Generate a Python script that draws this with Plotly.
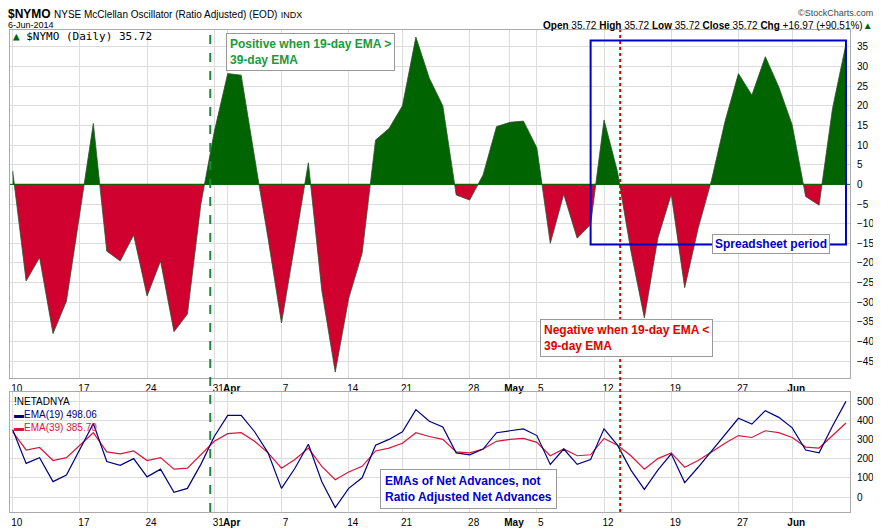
import plotly.graph_objects as go

dates = (["Mar %d" % d for d in [10,11,12,13,14,17,18,19,20,21,24,25,26,27,28,31]] +
         ["Apr %d" % d for d in [1,2,3,4,7,8,9,10,11,14,15,16,17,21,22,23,24,25,28,29,30]] +
         ["May %d" % d for d in [1,2,5,6,7,8,9,12,13,14,15,16,19,20,21,22,23,27,28,29,30]] +
         ["Jun %d" % d for d in [2,3,4,5,6]])

nymo = [3.4,-24.6,-18.6,-38,-29.7,-7.2,15.5,-17,-19.5,-12.9,-28.4,-19.5,-37.5,-33,-5,
        13.4,28.2,27.8,6.6,-13.7,-35.3,-15,5.5,-27,-47.8,-29,-17.5,11.3,14.2,20,37.5,27,
        20,-2.7,-4,2.4,14.7,15.8,16.1,9.3,-15,-2.5,-13.7,-10.2,16.4,3.2,-17,-34,-13.7,
        -2.5,-26.3,-11.2,1.1,16,28.2,22.7,32.5,24.8,15.1,-3.1,-5.3,19.3,35.72]

ema19 = [350,175,205,80,115,250,383,185,165,200,105,145,25,45,170,315,425,425,340,230,
         45,150,275,80,-55,45,100,270,300,340,455,395,365,230,220,250,335,345,355,320,
         170,250,170,195,355,270,140,40,140,225,75,155,240,330,410,380,450,415,360,245,
         230,370,498.06]
ema39 = [340,245,258,190,205,270,335,235,225,240,190,205,145,150,220,290,330,335,290,230,
         150,195,255,160,90,130,160,240,255,280,335,315,300,235,230,250,290,300,305,285,
         215,250,215,220,305,270,215,145,200,230,155,190,235,280,320,310,345,335,310,260,
         255,320,385.70]

tick_pos = [0,5,10,15,16,20,25,29,34,37,39,44,49,54,58]
tick_txt = ["10","17","24","31","<b>Apr</b>","7","14","21","28","<b>May</b>","5","12","19","27","<b>Jun</b>"]

px, pp, pn = [], [], []
for i, v in enumerate(nymo):
    if i > 0:
        a = nymo[i-1]
        if (a > 0) != (v > 0) and a != v:
            xc = i - 1 + a / (a - v)
            px.append(xc); pp.append(0); pn.append(0)
    px.append(i); pp.append(max(v, 0)); pn.append(min(v, 0))

xi = list(range(len(nymo)))
fig = go.Figure()
fig.add_trace(go.Scatter(x=px, y=pp, fill="tozeroy", fillcolor="#006400", mode="lines",
                         line=dict(color="#2f4f2f", width=0.8), xaxis="x", yaxis="y"))
fig.add_trace(go.Scatter(x=px, y=pn, fill="tozeroy", fillcolor="#d0002f", mode="lines",
                         line=dict(color="#2f4f2f", width=0.8), xaxis="x", yaxis="y"))
fig.add_trace(go.Scatter(x=xi, y=ema39, mode="lines", line=dict(color="#dc143c", width=1.2),
                         xaxis="x2", yaxis="y2"))
fig.add_trace(go.Scatter(x=xi, y=ema19, mode="lines", line=dict(color="#000080", width=1.2),
                         xaxis="x2", yaxis="y2"))

OFF = 8
W, H = 881 - OFF - 4, 532 - OFF
T, B = 30 - OFF, H - (512 - OFF)
AH = H - T - B
RM = W - (850 - OFF)
def py(pix):
    return (H - B - (pix - OFF)) / AH

ax = dict(range=[-0.2, 62.3], tickmode="array", tickvals=tick_pos, ticktext=tick_txt, tickangle=0,
          showgrid=True, gridcolor="#dcdcdc", zeroline=False, showline=True, linecolor="#aaa",
          mirror=True, tickfont=dict(size=10, color="#000"), ticks="", ticklabelstandoff=1,
          ticklabelshift=4)
ay = dict(side="right", showgrid=True, gridcolor="#dcdcdc", zeroline=False, showline=True,
          linecolor="#aaa", mirror=True, tickfont=dict(size=10), ticks="", ticklabelstandoff=4)
fig.update_layout(
    width=W, height=H, showlegend=False, plot_bgcolor="white", paper_bgcolor="white",
    font=dict(family="Liberation Sans, Arial", size=11, color="#000"),
    margin=dict(l=10 - OFF, r=RM, t=T, b=B, autoexpand=False),
    xaxis=dict(ax, domain=[0, 1], anchor="y"),
    yaxis=dict(ay, domain=[py(378), 1], range=[-49.3, 39.3], tickvals=list(range(-45, 36, 5))),
    xaxis2=dict(ax, domain=[0, 1], anchor="y2"),
    yaxis2=dict(ay, domain=[0, py(392)], range=[-78, 547], tickvals=[0,100,200,300,400,500]),
)
fig.add_shape(type="line", xref="x", yref="y", x0=-0.2, x1=62.3, y0=0, y1=0, line=dict(color="#006400", width=1))
fig.add_shape(type="line", xref="x", yref="paper", x0=14.7, x1=14.7, y0=0, y1=1,
              line=dict(color="#1a8a3a", width=2, dash="dash"))
fig.add_shape(type="line", xref="x", yref="paper", x0=45.2, x1=45.2, y0=0, y1=1,
              line=dict(color="#e00000", width=2, dash="dot"))
fig.add_shape(type="rect", xref="x", yref="y", x0=43.0, x1=62.0, y0=-15.3, y1=36.6,
              line=dict(color="#0000cc", width=2))

def ann(text, x, y, xref="paper", yref="paper", **kw):
    d = dict(text=text, x=x, y=y, xref=xref, yref=yref, showarrow=False, xanchor="left", yanchor="middle")
    d.update(kw)
    fig.add_annotation(**d)

ann("<b>$NYMO</b> <span style='font-size:10px'>NYSE McClellan Oscillator (Ratio Adjusted) (EOD)</span> <span style='font-size:9px'>INDX</span>",
    0, py(14), font=dict(size=12), xshift=-4)
ann("6-Jun-2014", 0, py(25), xshift=-4, font=dict(size=9))
ann("©StockCharts.com", 1, py(13), xanchor="right", xshift=RM - 2, font=dict(size=9, color="#444"))
ann("<b>Open</b> 35.72 <b>High</b> 35.72 <b>Low</b> 35.72 <b>Close</b> 35.72 <b>Chg</b> +16.97 (+90.51%)<span style='color:#006400'>▲</span>",
    1, py(25), xanchor="right", xshift=RM - 2, font=dict(size=10))
ann("<span style='color:#006400'>▲</span> $NYMO (Daily) 35.72", 0, py(37), xshift=1, font=dict(size=11, family="DejaVu Sans Mono"))
ann("<b>Positive when 19-day EMA ><br>39-day EMA</b>", 15.9, 38.6, xref="x", yref="y", yanchor="top", align="left",
    font=dict(size=12, color="#1a9a3a"), bgcolor="white", bordercolor="#999", borderwidth=1, borderpad=3)
ann("<b>Negative when 19-day EMA <<br>39-day EMA</b>", 39.2, -34.3, xref="x", yref="y", yanchor="top", align="left",
    font=dict(size=12, color="#e00000"), bgcolor="white", bordercolor="#999", borderwidth=1, borderpad=3)
ann("<b>Spreadsheet period</b>", 52.0, -15.3, xref="x", yref="y",
    font=dict(size=12, color="#0000cc"), bgcolor="white", bordercolor="#999", borderwidth=1, borderpad=2)
ann("<b>EMAs of Net Advances, not<br>Ratio Adjusted Net Advances</b>", 27.3, 145, xref="x2", yref="y2", yanchor="top", align="left",
    font=dict(size=12, color="#0000cc"), bgcolor="white", bordercolor="#999", borderwidth=1, borderpad=4)
ann("!NETADNYA<br><span style='color:#000080'>▬EMA(19) 498.06</span><br><span style='color:#dc143c'>▬EMA(39) 385.70</span>",
    0, py(394), xshift=2, yanchor="top", align="left", font=dict(size=10))

fig.write_html("out.html")
